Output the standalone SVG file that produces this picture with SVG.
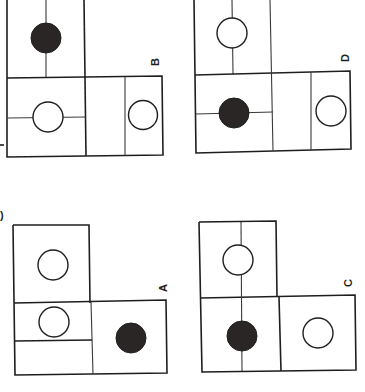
<svg xmlns="http://www.w3.org/2000/svg" width="365" height="392" viewBox="0 0 365 392">
<style>
.b{fill:none;stroke:#1e1e1e;stroke-width:1.6}
.t{fill:none;stroke:#3a3a3a;stroke-width:1.1}
.o{fill:#fff;stroke:#1e1e1e;stroke-width:1.4}
.f{fill:#2a2626;stroke:#1e1e1e;stroke-width:1}
.l{font-family:"Liberation Sans",Arial,sans-serif;font-size:11px;font-weight:bold;fill:#1e1e1e}
</style>
<rect width="365" height="392" fill="#fff"/>
<g id="panelB">
<line class="t" x1="46" y1="0" x2="46" y2="78"/>
<polyline class="b" points="7,0 7,157 163,155 162,76 7,78"/>
<line class="b" x1="84" y1="0" x2="86" y2="156"/>
<line class="t" x1="125" y1="77" x2="125" y2="155"/>
<line class="t" x1="8" y1="118" x2="86" y2="117"/>
<circle class="f" cx="46" cy="38" r="15"/>
<circle class="o" cx="48" cy="117" r="15"/>
<circle class="o" cx="143" cy="115" r="14.5"/>
<text class="l" transform="translate(155,62) rotate(-90)" text-anchor="middle" dominant-baseline="central">B</text>
</g>
<g id="panelD">
<line class="t" x1="232" y1="0" x2="233" y2="74"/>
<polyline class="b" points="194,0 196,153 351,149 350,71 195,75"/>
<line class="t" x1="270" y1="0" x2="273" y2="151"/>
<line class="t" x1="311" y1="72" x2="311" y2="150"/>
<line class="t" x1="196" y1="114" x2="273" y2="112"/>
<circle class="o" cx="232" cy="33" r="15"/>
<circle class="f" cx="234" cy="113" r="15"/>
<circle class="o" cx="331" cy="111" r="15"/>
<text class="l" transform="translate(345,58) rotate(-90)" text-anchor="middle" dominant-baseline="central">D</text>
</g>
<g id="panelA">
<polyline class="b" points="13,225 89,225 90,303"/>
<polyline class="b" points="13,225 15,375 167,373 166,300 14,303"/>
<line class="t" x1="91" y1="302" x2="93" y2="374"/>
<line class="b" x1="15" y1="341" x2="92" y2="340"/>
<circle class="o" cx="53" cy="265" r="15"/>
<circle class="o" cx="54" cy="322" r="15"/>
<circle class="f" cx="131" cy="338" r="15"/>
<text class="l" transform="translate(163,288) rotate(-90)" text-anchor="middle" dominant-baseline="central">A</text>
</g>
<g id="panelC">
<polyline class="b" points="199,222 276,221 277,297"/>
<polyline class="b" points="199,222 202,372 356,370 355,295 200,298"/>
<line class="t" x1="241" y1="222" x2="242" y2="371"/>
<line class="b" x1="279" y1="297" x2="281" y2="371"/>
<circle class="o" cx="238" cy="260" r="15"/>
<circle class="f" cx="242" cy="336" r="15"/>
<circle class="o" cx="318" cy="333" r="15"/>
<text class="l" transform="translate(348,283) rotate(-90)" text-anchor="middle" dominant-baseline="central">C</text>
</g>
<g id="marks">
<line class="b" x1="0" y1="145" x2="4" y2="145"/>
<text class="l" x="0" y="219" font-size="10">)</text>
</g>
</svg>
